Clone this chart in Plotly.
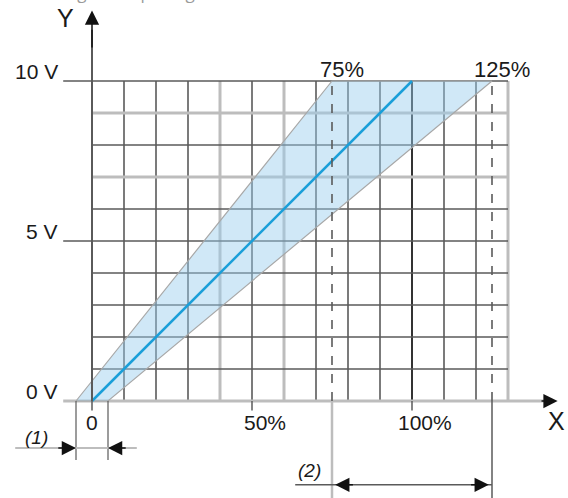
import plotly.graph_objects as go

# grid positions (percent of X range / volts)
grid_pct = [0, 10, 20, 30, 40, 50, 60, 70, 80, 90, 100, 110, 120, 130]
grid_volt = [0, 1, 2, 3, 4, 5, 6, 7, 8, 9, 10]
light_pct = [40, 60, 130]
light_volt = [0, 7, 9]

# tolerance band: upper edge -5% -> 75%, lower edge 5% -> 125%
band_pct = [-5, 75, 125, 5, -5]
band_volt = [0, 10, 10, 0, 0]
ideal_pct = [0, 100]
ideal_volt = [0, 10]

y_labels = ["0 V", "5 V", "10 V"]
y_label_volt = [0, 5, 10]
x_labels = ["0", "50%", "100%"]
x_label_pct = [0, 50, 100]
limit_labels = ["75%", "125%"]
limit_pct = [75, 125]

DARK = "#5a5a5a"
LIGHT = "#bdbdbd"
TEXT = "#1a1a1a"
BLUE = "#1a9fd9"
FONT = "Liberation Sans, Arial, sans-serif"

fig = go.Figure()
shapes = []

for p in grid_pct:
    light = p in light_pct
    shapes.append(dict(type="line", x0=p, x1=p, y0=0, y1=10, layer="below",
                       line=dict(color=LIGHT if light else ("#333333" if p == 100 else DARK),
                                 width=3 if light else (2 if p == 100 else 1.6))))
for v in grid_volt:
    light = v in light_volt
    x0 = -9 if v in y_label_volt else 0
    shapes.append(dict(type="line", x0=x0, x1=130, y0=v, y1=v, layer="below",
                       line=dict(color=LIGHT if light else DARK, width=3 if light else 1.6)))

# x axis continuation and y axis
shapes.append(dict(type="line", x0=130, x1=143, y0=0, y1=0, layer="below",
                   line=dict(color=LIGHT, width=3)))
shapes.append(dict(type="line", x0=0, x1=0, y0=0, y1=11.6,
                   line=dict(color=DARK, width=2)))

# small ticks under labelled x positions
for p in x_label_pct:
    shapes.append(dict(type="line", x0=p, x1=p, y0=0, y1=-0.3,
                       line=dict(color=DARK, width=1.5)))

fig.add_trace(go.Scatter(x=band_pct, y=band_volt, mode="lines", fill="toself",
                         fillcolor="rgba(150,205,238,0.45)",
                         line=dict(color="#a8a8a8", width=1.2), hoverinfo="skip"))
fig.add_trace(go.Scatter(x=ideal_pct, y=ideal_volt, mode="lines",
                         line=dict(color=BLUE, width=2.5), hoverinfo="skip"))

# limit lines 75% / 125%
for p in limit_pct:
    shapes.append(dict(type="line", x0=p, x1=p, y0=0, y1=10,
                       line=dict(color=DARK, width=1.6, dash="dash")))
shapes.append(dict(type="line", x0=75, x1=75, y0=0, y1=-3.1, line=dict(color=LIGHT, width=2.5)))
shapes.append(dict(type="line", x0=125, x1=125, y0=0, y1=-3.1, line=dict(color=DARK, width=1.5)))

# dimension (1)
for p in [-5, 5]:
    shapes.append(dict(type="line", x0=p, x1=p, y0=0, y1=-1.84, line=dict(color=DARK, width=1.2)))
shapes.append(dict(type="line", x0=-24, x1=14, y0=-1.47, y1=-1.47, line=dict(color=LIGHT, width=2)))
# dimension (2)
shapes.append(dict(type="line", x0=63.5, x1=125, y0=-2.62, y1=-2.62, line=dict(color=DARK, width=1.5)))

ann = []


def arrow(x, y, ax, ay):
    ann.append(dict(x=x, y=y, ax=ax, ay=ay, xref="x", yref="y", axref="x", ayref="y",
                    text="", showarrow=True, arrowhead=2, arrowsize=1.9, arrowwidth=1.5,
                    arrowcolor="#111111", standoff=0))


arrow(0, 12.2, 0, 11.0)
arrow(145.5, 0, 140, 0)
arrow(-5, -1.47, -11, -1.47)
arrow(5, -1.47, 11, -1.47)
arrow(76, -2.62, 82, -2.62)
arrow(124, -2.62, 118, -2.62)

for lbl, v in zip(y_labels, y_label_volt):
    ann.append(dict(x=-10, y=v, xref="x", yref="y", text=lbl, showarrow=False,
                    xanchor="right", yanchor="bottom", yshift=-4,
                    font=dict(family=FONT, size=21, color=TEXT)))
for lbl, p in zip(x_labels, x_label_pct):
    ann.append(dict(x=p + (4 if p else 0), y=-0.66, xref="x", yref="y", text=lbl,
                    showarrow=False, font=dict(family=FONT, size=21, color=TEXT)))
for lbl, p in zip(limit_labels, limit_pct):
    ann.append(dict(x=p + 3, y=10.36, xref="x", yref="y", text=lbl, showarrow=False,
                    font=dict(family=FONT, size=22, color=TEXT)))

ann += [
    dict(x=-8.2, y=11.97, text="Y", font=dict(family=FONT, size=25, color=TEXT)),
    dict(x=145.2, y=-0.62, text="X", font=dict(family=FONT, size=25, color=TEXT)),
    dict(x=-17.4, y=-1.13, text="<i>(1)</i>", font=dict(family=FONT, size=19, color=TEXT)),
    dict(x=68, y=-2.18, text="<i>(2)</i>", font=dict(family=FONT, size=19, color=TEXT)),
    # title sits mostly above the window; only the bottom of the letters shows
    dict(x=30 / 568, y=1.015, xref="paper", yref="paper", text="Analogue Output Signal",
         xanchor="left", yanchor="middle",
         font=dict(family="Open Sans, sans-serif", size=17, color="#9a9a9a")),
]
for a in ann:
    a.setdefault("xref", "x")
    a.setdefault("yref", "y")
    a.setdefault("showarrow", False)

fig.update_layout(
    width=568, height=498,
    margin=dict(l=0, r=0, t=0, b=0),
    plot_bgcolor="white", paper_bgcolor="white",
    showlegend=False,
    xaxis=dict(range=[-28.75, 148.75], visible=False, fixedrange=True),
    yaxis=dict(range=[-3.03125, 12.53125], visible=False, fixedrange=True),
    shapes=shapes,
    annotations=ann,
)

# page body has a default 8px margin; drop it so the figure sits at the window corner
fig.write_html("out.html", config={"displayModeBar": False},
               post_script="document.body.style.margin='0';")
